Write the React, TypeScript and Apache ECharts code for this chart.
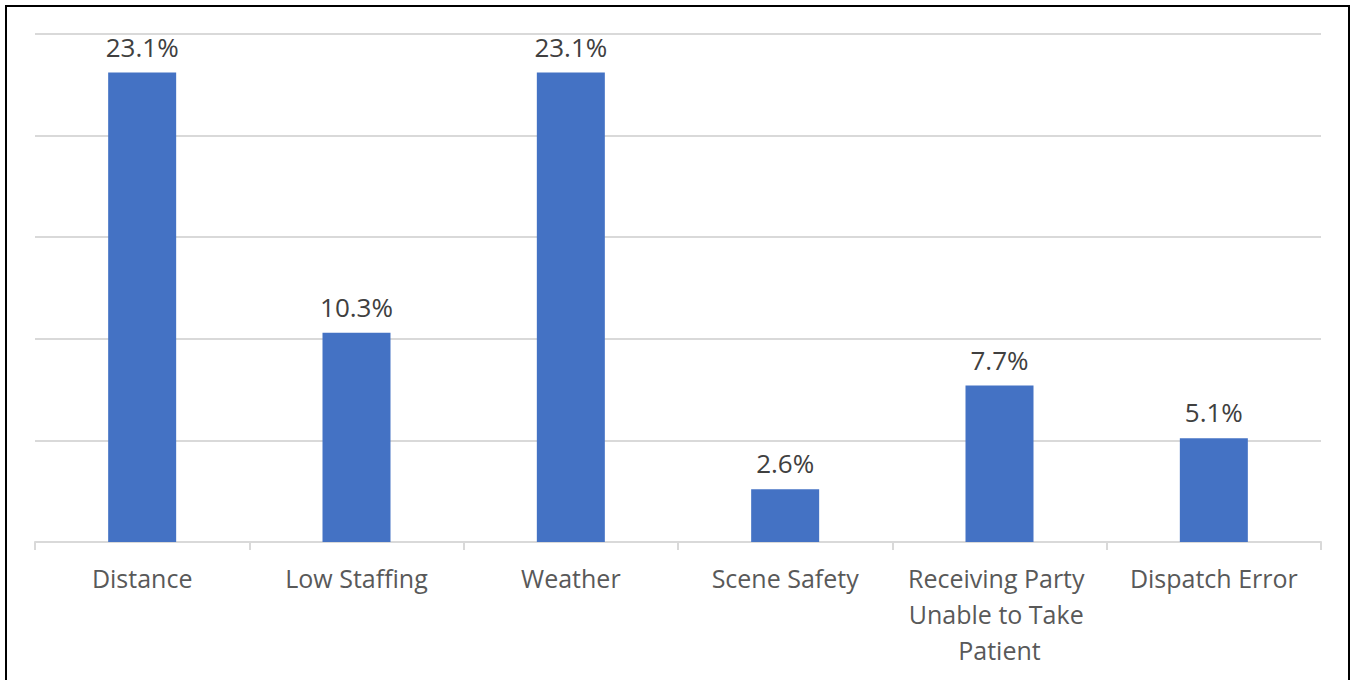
import React, { useEffect, useRef } from "react";
import * as echarts from "echarts";

const categories = [
  "Distance",
  "Low Staffing",
  "Weather",
  "Scene Safety",
  "Receiving Party Unable to Take Patient",
  "Dispatch Error",
];
const values = [23.1, 10.3, 23.1, 2.6, 7.7, 5.1];
const yMin = 0;
const yMax = 25;
const yInterval = 5;

export default function App() {
  const ref = useRef<HTMLDivElement>(null);
  useEffect(() => {
    if (!ref.current) return;
    const chart = echarts.init(ref.current, null, { renderer: "svg" });
    const font = "'Open Sans', 'Liberation Sans', sans-serif";
    chart.setOption({
      animation: false,
      backgroundColor: "#ffffff",
      grid: { left: 35, right: 30, top: 34, bottom: 138, containLabel: false },
      xAxis: {
        type: "category",
        data: categories,
        boundaryGap: true,
        axisLine: { show: true, lineStyle: { color: "#d9d9d9", width: 2 } },
        axisTick: { show: true, length: 8, lineStyle: { color: "#d9d9d9", width: 2 } },
        axisLabel: {
          interval: 0,
          color: "#595959",
          fontFamily: font,
          fontSize: 25,
          lineHeight: 36,
          margin: 18,
          width: 200,
          overflow: "break",
        },
      },
      yAxis: {
        type: "value",
        min: yMin,
        max: yMax,
        interval: yInterval,
        axisLabel: { show: false },
        axisLine: { show: false },
        axisTick: { show: false },
        splitLine: { show: true, lineStyle: { color: "#d9d9d9", width: 2 } },
      },
      series: [
        {
          type: "bar",
          data: values,
          barWidth: 68,
          itemStyle: { color: "#4472C4" },
          label: {
            show: true,
            position: "top",
            distance: 13,
            color: "#404040",
            fontFamily: font,
            fontSize: 26,
            formatter: (p: any) => p.value.toFixed(1) + "%",
          },
        },
      ],
      graphic: [
        {
          type: "rect",
          shape: { x: 6, y: 6, width: 1343, height: 700 },
          style: { fill: "none", stroke: "#000000", lineWidth: 2 },
          silent: true,
          z: 100,
        },
      ],
    });
    return () => chart.dispose();
  }, []);
  return (
    <div
      ref={ref}
      style={{ position: "fixed", left: 0, top: 0, width: 1351, height: 680, background: "#fff" }}
    />
  );
}
